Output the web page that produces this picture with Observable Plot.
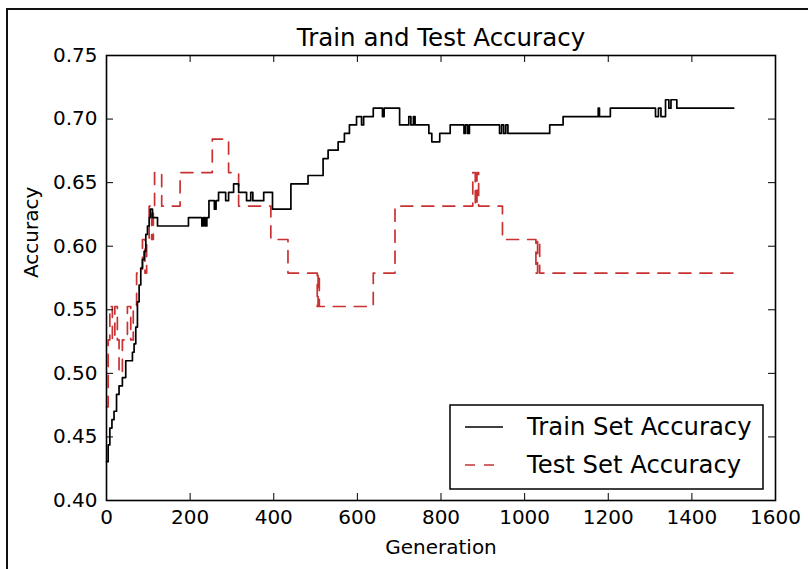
<!DOCTYPE html>
<html><head><meta charset="utf-8">
<script src="https://cdn.jsdelivr.net/npm/d3@7"></script>
<script src="https://cdn.jsdelivr.net/npm/@observablehq/plot@0.6"></script>
<style>
body{margin:0;background:#fff;}
#wrap{position:relative;width:808px;height:569px;overflow:hidden;background:#fff;}
#border{position:absolute;left:6px;top:8px;width:900px;height:700px;border-top:2px solid #111;border-left:2px solid #111;pointer-events:none;}
</style></head><body><div id="wrap"><div id="border"></div></div>
<script>
const title = "Train and Test Accuracy";
const xLabel = "Generation";
const yLabel = "Accuracy";
const seriesNames = ["Train Set Accuracy", "Test Set Accuracy"];
const xTicks = [0, 200, 400, 600, 800, 1000, 1200, 1400, 1600];
const yTicks = [0.40, 0.45, 0.50, 0.55, 0.60, 0.65, 0.70, 0.75];

const trainGen = [
  0, 4, 8, 13, 18, 24, 30, 38, 46, 62,
  66, 70, 74, 78, 82, 86, 90, 94, 98, 102,
  105, 110, 122, 196, 228, 232, 236, 240, 245, 258,
  262, 268, 285, 292, 304, 316, 335, 345, 350, 376,
  397, 441, 482, 518, 530, 554, 569, 581, 598, 610,
  615, 638, 660, 664, 701, 723, 728, 734, 738, 771,
  778, 797, 822, 855, 859, 864, 868, 940, 945, 950,
  955, 960, 1060, 1092, 1176, 1179, 1205, 1313, 1320, 1326,
  1337, 1345, 1350, 1364, 1500];
const trainAcc = [
  0.4305, 0.4437, 0.4570, 0.4636, 0.4702, 0.4834, 0.4901, 0.4967, 0.5099, 0.5166,
  0.5232, 0.5364, 0.5563, 0.5695, 0.5828, 0.5894, 0.5960, 0.6093, 0.6159, 0.6225,
  0.6291, 0.6225, 0.6159, 0.6225, 0.6159, 0.6225, 0.6159, 0.6225, 0.6358, 0.6291,
  0.6358, 0.6424, 0.6358, 0.6424, 0.6490, 0.6424, 0.6358, 0.6424, 0.6358, 0.6424,
  0.6291, 0.6490, 0.6556, 0.6689, 0.6755, 0.6821, 0.6887, 0.6954, 0.7020, 0.6954,
  0.7020, 0.7086, 0.7020, 0.7086, 0.6954, 0.7020, 0.6954, 0.7020, 0.6954, 0.6887,
  0.6821, 0.6887, 0.6954, 0.6887, 0.6954, 0.6887, 0.6954, 0.6887, 0.6954, 0.6887,
  0.6954, 0.6887, 0.6954, 0.7020, 0.7086, 0.7020, 0.7086, 0.7020, 0.7086, 0.7020,
  0.7152, 0.7086, 0.7152, 0.7086, 0.7086];

const testGen = [
  0, 4, 8, 14, 20, 26, 30, 38, 46, 50,
  58, 64, 72, 86, 92, 96, 102, 108, 112, 115,
  132, 176, 253, 292, 316, 393, 434, 504, 506, 509,
  638, 690, 876, 882, 886, 890, 947, 1027, 1031, 1036,
  1500];
const testAcc = [
  0.4737, 0.5263, 0.5526, 0.5263, 0.5526, 0.5263, 0.5000, 0.5263, 0.5263, 0.5526,
  0.5263, 0.5526, 0.5789, 0.6053, 0.5789, 0.6053, 0.6316, 0.6053, 0.6316, 0.6579,
  0.6316, 0.6579, 0.6842, 0.6579, 0.6316, 0.6053, 0.5789, 0.5526, 0.5789, 0.5526,
  0.5789, 0.6316, 0.6579, 0.6316, 0.6579, 0.6316, 0.6053, 0.5789, 0.6053, 0.5789,
  0.5789];

const train = trainGen.map((g, i) => ({gen: g, acc: trainAcc[i]}));
const test = testGen.map((g, i) => ({gen: g, acc: testAcc[i]}));

const W = 808, H = 569, mL = 106, mR = 33, mT = 55, mB = 69;
const fw = W - mL - mR, fh = H - mT - mB;
const red = "#c83232";
const font = "'DejaVu Sans', 'Liberation Sans', sans-serif";

const plot = Plot.plot({
  width: W, height: H,
  marginLeft: mL, marginRight: mR, marginTop: mT, marginBottom: mB,
  style: {background: "white", fontFamily: font, fontSize: "20px", color: "#000", overflow: "visible"},
  x: {domain: [0, 1600]},
  y: {domain: [0.40, 0.75]},
  marks: [
    Plot.line(test, {x: "gen", y: "acc", curve: "step-after", stroke: red, strokeWidth: 1.7, strokeDasharray: "12,9"}),
    Plot.line(train, {x: "gen", y: "acc", curve: "step-after", stroke: "#000", strokeWidth: 1.7}),
    Plot.tickX(xTicks, {x: d => d, insetTop: fh - 7, stroke: "#000"}),
    Plot.tickX(xTicks, {x: d => d, insetBottom: fh - 7, stroke: "#000"}),
    Plot.tickY(yTicks, {y: d => d, insetRight: fw - 7, stroke: "#000"}),
    Plot.tickY(yTicks, {y: d => d, insetLeft: fw - 7, stroke: "#000"}),
    Plot.axisX({ticks: xTicks, tickSize: 0, tickPadding: 9, label: null, tickFormat: d => String(d)}),
    Plot.axisY({ticks: yTicks, tickSize: 0, tickPadding: 9, label: null, tickFormat: d3.format(".2f")}),
    Plot.frame({stroke: "#000", strokeWidth: 1.6}),
    Plot.text([title], {frameAnchor: "top", lineAnchor: "bottom", dy: -10, fontSize: 24.5, text: d => d}),
    Plot.text([xLabel], {frameAnchor: "bottom", lineAnchor: "bottom", dy: 53, text: d => d}),
    Plot.text([yLabel], {frameAnchor: "left", lineAnchor: "bottom", rotate: -90, dx: -69, text: d => d})
  ]
});

// legend
const svg = d3.select(plot);
const lg = svg.append("g").attr("font-family", font).attr("font-size", 24.3).attr("text-anchor", "start");
lg.append("rect").attr("x", 450).attr("y", 405).attr("width", 313).attr("height", 84)
  .attr("fill", "white").attr("stroke", "#000").attr("stroke-width", 1.5);
const styles = [{stroke: "#000", dash: null}, {stroke: red, dash: "10,9"}];
seriesNames.forEach((name, i) => {
  const yy = 427 + i * 38;
  lg.append("line").attr("x1", 465).attr("x2", 503).attr("y1", yy).attr("y2", yy)
    .attr("stroke", styles[i].stroke).attr("stroke-width", 1.7)
    .attr("stroke-dasharray", styles[i].dash);
  lg.append("text").attr("x", 527).attr("y", yy + 8).attr("fill", "#000").text(name);
});

document.getElementById("wrap").appendChild(plot);
</script>
</body></html>
